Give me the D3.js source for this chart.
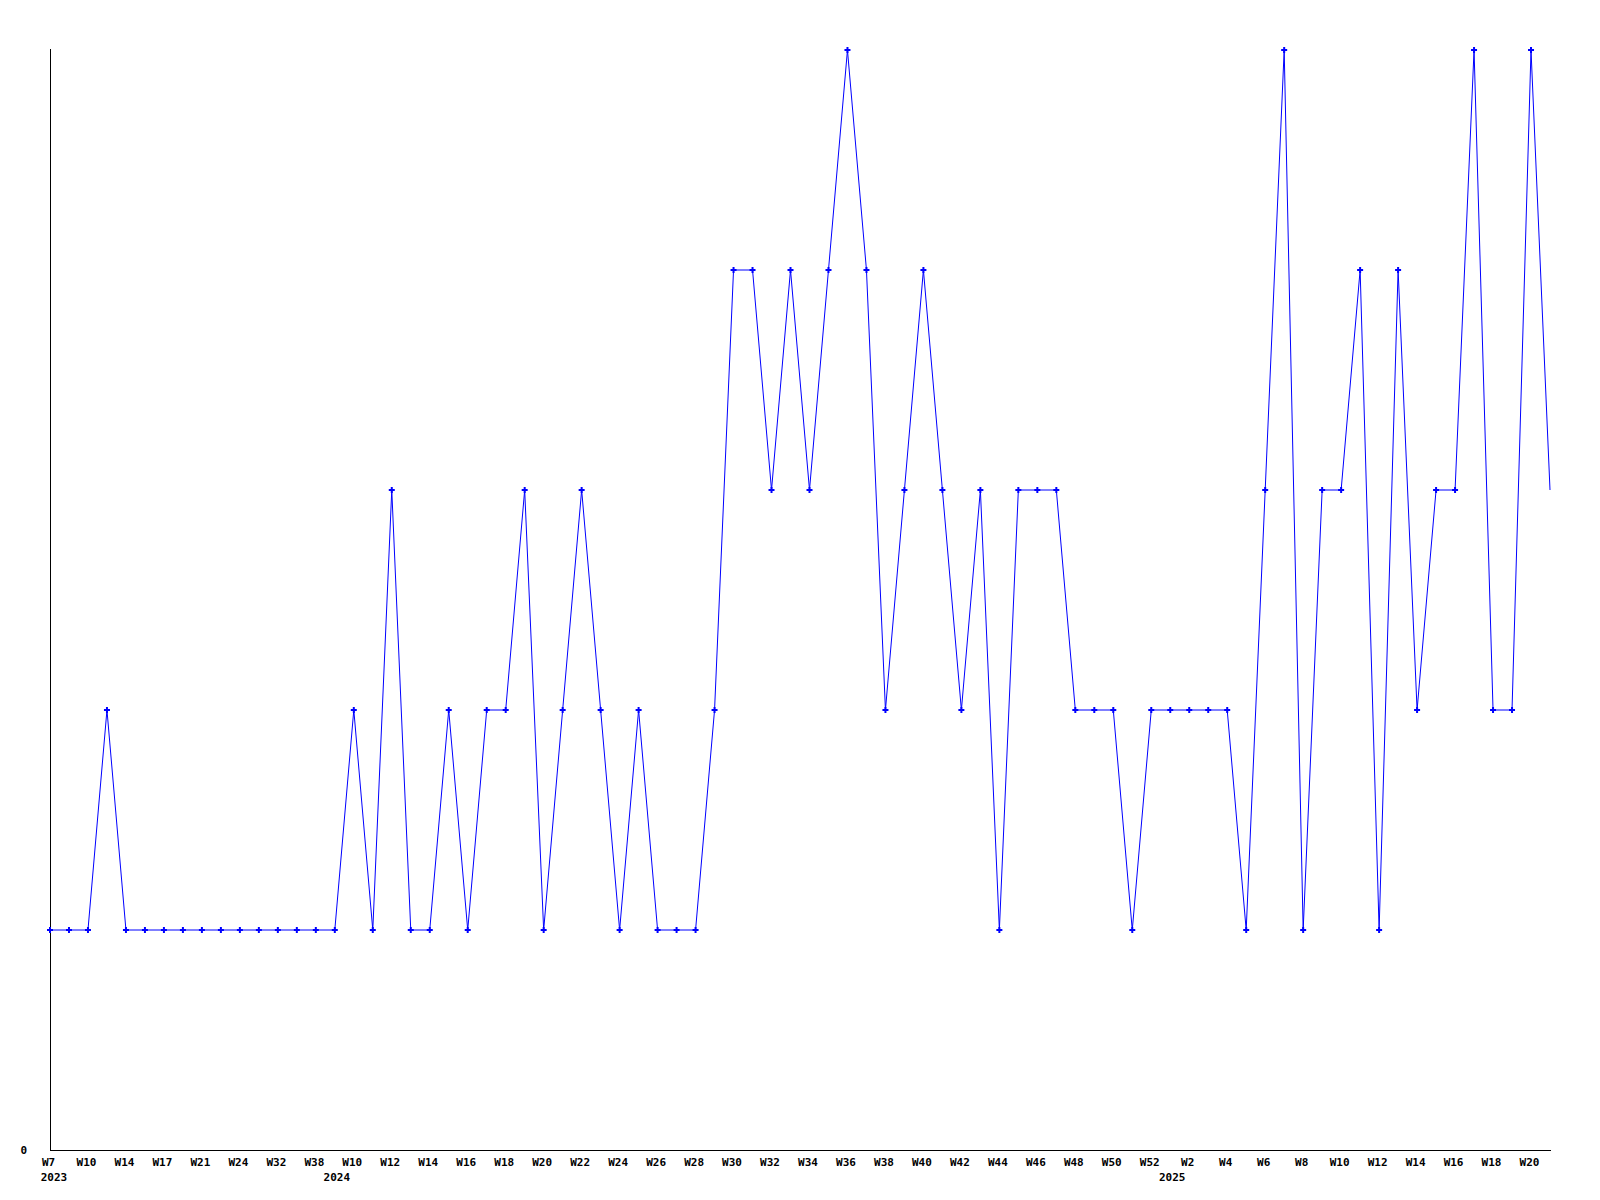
<!DOCTYPE html>
<html>
<head>
<meta charset="utf-8">
<script src="https://cdn.jsdelivr.net/npm/d3@7"></script>
<style>
  html, body { margin: 0; padding: 0; background: #fff; }
  svg text { font-family: "DejaVu Sans Mono", "Liberation Mono", monospace; font-weight: bold; font-size: 11px; fill: #000; }
</style>
</head>
<body>
<svg id="chart" width="1600" height="1200"></svg>
<script>
// ---- data ----
const weeks = [
  "W7","W8","W10","W12","W14","W15","W17","W19","W21","W22","W24","W28","W32","W35","W38",
  "W9","W10","W11","W12","W13","W14","W15","W16","W17","W18","W19","W20","W21","W22","W23",
  "W24","W25","W26","W27","W28","W29","W30","W31","W32","W33","W34","W35","W36","W37","W38",
  "W39","W40","W41","W42","W43","W44","W45","W46","W47","W48","W49","W50","W51","W52",
  "W1","W2","W3","W4","W5","W6","W7","W8","W9","W10","W11","W12","W13","W14","W15","W16",
  "W17","W18","W19","W20","W21"
];
const years = [
  2023,2023,2023,2023,2023,2023,2023,2023,2023,2023,2023,2023,2023,2023,2023,
  2024,2024,2024,2024,2024,2024,2024,2024,2024,2024,2024,2024,2024,2024,2024,
  2024,2024,2024,2024,2024,2024,2024,2024,2024,2024,2024,2024,2024,2024,2024,
  2024,2024,2024,2024,2024,2024,2024,2024,2024,2024,2024,2024,2024,2024,
  2025,2025,2025,2025,2025,2025,2025,2025,2025,2025,2025,2025,2025,2025,2025,2025,
  2025,2025,2025,2025,2025
];
const values = [
  1,1,1,2,1,1,1,1,1,1,1,1,1,1,1,
  1,2,1,3,1,1,2,1,2,2,3,1,2,3,2,
  1,2,1,1,1,2,4,4,3,4,3,4,5,4,2,
  3,4,3,2,3,1,3,3,3,2,2,2,1,2,
  2,2,2,2,1,3,5,1,3,3,4,1,4,2,3,3,
  5,2,2,5,3
];
const yTicks = [0];

// ---- chart ----
const svg = d3.select("#chart");
const mLeft = 50, mRight = 1550, mTop = 50, mBottom = 1150;
const idx = d3.range(values.length);

const x = d3.scalePoint().domain(idx).range([mLeft, mRight]);
const y = d3.scaleLinear().domain([0, 5]).range([mBottom, mTop]);

// axes
const xAxis = d3.axisBottom(x)
  .tickValues(idx.filter(i => i % 2 === 0))
  .tickFormat(i => weeks[i])
  .tickSize(0).tickPadding(8);
const gx = svg.append("g").attr("transform", `translate(0,${mBottom})`).call(xAxis);
gx.select(".domain").attr("d", `M${mLeft},0.5H${mRight + 1}`).attr("stroke", "#000");
gx.selectAll(".tick text").attr("dx", -2);

const yAxis = d3.axisLeft(y).tickValues(yTicks).tickFormat(d3.format("d")).tickSize(0).tickPadding(23);
const gy = svg.append("g").attr("transform", `translate(${mLeft},0)`).call(yAxis);
gy.select(".domain").attr("d", `M0.5,${mTop - 1}V${mBottom}`).attr("stroke", "#000");
gy.selectAll("text").attr("dy", "0.35em");

// year labels at first point of each year
const yearStarts = idx.filter(i => i === 0 || years[i] !== years[i - 1]);
svg.append("g").selectAll("text").data(yearStarts).join("text")
  .attr("x", i => i === 0 ? x(i) + 4 : x(i) + 2)
  .attr("y", mBottom + 31)
  .attr("text-anchor", "middle")
  .text(i => years[i]);

// line
const line = d3.line().x((d, i) => x(i)).y(d => y(d));
svg.append("path").datum(values)
  .attr("d", line)
  .attr("fill", "none")
  .attr("stroke", "#0000ff")
  .attr("stroke-width", 1);

// markers (no marker on the final, partial point)
svg.append("g").selectAll("path").data(values.slice(0, values.length - 1)).join("path")
  .attr("transform", (d, i) => `translate(${x(i)},${y(d)})`)
  .attr("d", d3.symbol().type(d3.symbolCross).size(20))
  .attr("fill", "#0000ff");
</script>
</body>
</html>
